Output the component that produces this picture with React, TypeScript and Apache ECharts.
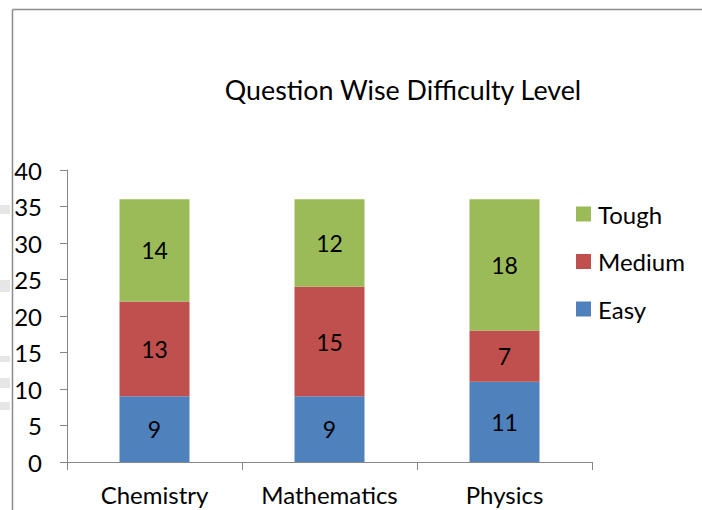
import React, { useEffect, useRef } from "react";
import * as echarts from "echarts";

const categories = ["Chemistry", "Mathematics", "Physics"];
const easy = [9, 9, 11];
const medium = [13, 15, 7];
const tough = [14, 12, 18];
const seriesNames = ["Easy", "Medium", "Tough"];
const colors = ["#4F81BD", "#C0504D", "#9BBB59"];

const FONT = "Lato, 'Open Sans', sans-serif";

export default function App() {
  const ref = useRef<HTMLDivElement>(null);
  useEffect(() => {
    if (!ref.current) return;
    const chart = echarts.init(ref.current, undefined, { renderer: "svg" });
    const values = [easy, medium, tough];
    const labelStyle = { show: true, position: "inside", color: "#000", fontSize: 23, fontFamily: FONT };
    chart.setOption({
      animation: false,
      backgroundColor: "#fff",
      title: {
        text: "Question Wise Difficulty Level",
        left: 398,
        top: 71,
        textAlign: "center",
        textStyle: { color: "#000", fontSize: 26.8, fontWeight: "normal", fontFamily: FONT },
      },
      legend: {
        data: [...seriesNames].reverse(),
        orient: "vertical",
        left: 576,
        top: 202,
        padding: 0,
        itemWidth: 15,
        itemHeight: 15,
        itemGap: 23.5,
        icon: "rect",
        textStyle: { color: "#000", fontSize: 24, fontFamily: FONT, padding: [0, 0, 0, 2] },
      },
      grid: { left: 67, top: 170, width: 525, height: 292, containLabel: false },
      xAxis: {
        type: "category",
        data: categories,
        axisLine: { lineStyle: { color: "#868686", width: 1 } },
        axisTick: { show: true, length: 8, lineStyle: { color: "#868686" } },
        axisLabel: { color: "#000", fontSize: 24, fontFamily: FONT, margin: 20, interval: 0 },
      },
      yAxis: {
        type: "value",
        min: 0,
        max: 40,
        interval: 5,
        axisLine: { show: true, lineStyle: { color: "#868686", width: 1 } },
        axisTick: { show: true, length: 7, lineStyle: { color: "#868686" } },
        splitLine: { show: false },
        axisLabel: { color: "#000", fontSize: 24, fontFamily: FONT, margin: 25 },
      },
      series: seriesNames.map((name, i) => ({
        name,
        type: "bar",
        stack: "total",
        barWidth: 70,
        data: values[i],
        itemStyle: { color: colors[i] },
        label: labelStyle,
      })),
      graphic: [
        { type: "line", shape: { x1: 12.5, y1: 9.5, x2: 702, y2: 9.5 }, style: { stroke: "#8c8c8c", lineWidth: 1.5 } },
        { type: "line", shape: { x1: 12.5, y1: 9.5, x2: 12.5, y2: 510 }, style: { stroke: "#8c8c8c", lineWidth: 1.5 } },
        { type: "rect", shape: { x: 0, y: 205, width: 10, height: 9 }, style: { fill: "#e6e6e6" } },
        { type: "rect", shape: { x: 0, y: 280, width: 10, height: 12 }, style: { fill: "#e6e6e6" } },
        { type: "rect", shape: { x: 0, y: 356, width: 10, height: 6 }, style: { fill: "#e6e6e6" } },
        { type: "rect", shape: { x: 0, y: 378, width: 10, height: 10 }, style: { fill: "#e6e6e6" } },
        { type: "rect", shape: { x: 0, y: 402, width: 10, height: 8 }, style: { fill: "#e6e6e6" } },
      ],
    });
    return () => chart.dispose();
  }, []);
  return <div ref={ref} style={{ width: 702, height: 510, position: "absolute", left: 0, top: 0 }} />;
}
